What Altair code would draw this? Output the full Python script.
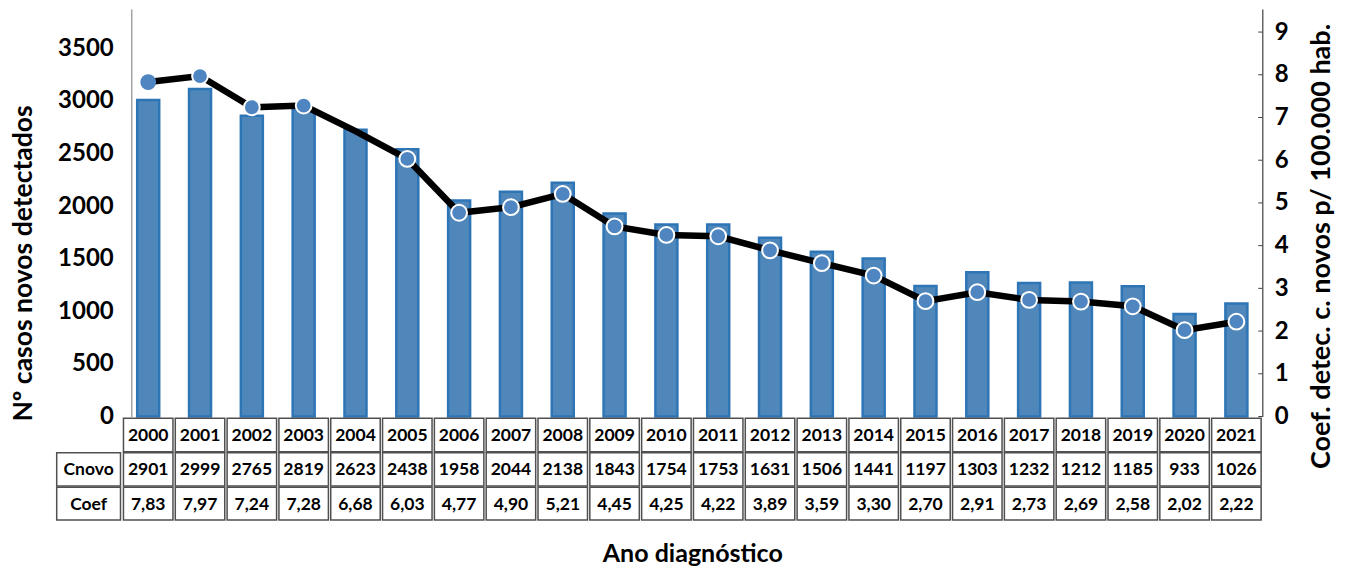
import altair as alt
import pandas as pd

years = list(range(2000, 2022))
cnovo = [2901, 2999, 2765, 2819, 2623, 2438, 1958, 2044, 2138, 1843, 1754,
         1753, 1631, 1506, 1441, 1197, 1303, 1232, 1212, 1185, 933, 1026]
coef = [7.83, 7.97, 7.24, 7.28, 6.68, 6.03, 4.77, 4.90, 5.21, 4.45, 4.25,
        4.22, 3.89, 3.59, 3.30, 2.70, 2.91, 2.73, 2.69, 2.58, 2.02, 2.22]
# bar heights (left axis)
bar_total = [3010, 3114, 2860, 2920, 2725, 2541, 2054, 2137, 2222, 1931, 1826,
             1826, 1700, 1567, 1501, 1241, 1371, 1269, 1273, 1238, 975, 1074]
left_ticks = [0, 500, 1000, 1500, 2000, 2500, 3000, 3500]
right_ticks = [0, 1, 2, 3, 4, 5, 6, 7, 8, 9]
row_labels = ["Cnovo", "Coef"]
no_marker_years = [2004]

df = pd.DataFrame({"year": years, "cnovo": cnovo, "coef": coef, "total": bar_total})

FONT = "Lato"
W, H = 1140, 407.5

X = alt.X("year:O", scale=alt.Scale(paddingInner=0, paddingOuter=0),
          axis=alt.Axis(title="Ano diagnóstico", labels=False, ticks=False, domain=False,
                        titleFont=FONT, titleFontSize=25, titleFontWeight="bold",
                        titleColor="black", titlePadding=125))

Yleft = alt.Y("total:Q", scale=alt.Scale(domain=[0, 3874], nice=False),
              axis=alt.Axis(orient="left", values=left_ticks, format="d", ticks=False, grid=False,
                            offset=-9, labelPadding=18, domainColor="#8c8c8c", domainWidth=1.2,
                            labelFont=FONT, labelFontSize=24, labelFontWeight="bold",
                            labelColor="black", title="Nº casos novos detectados",
                            titleFont=FONT, titleFontSize=26.5, titleFontWeight="bold",
                            titleColor="black", titlePadding=20, titleY=254))

Yright = alt.Y("coef:Q", scale=alt.Scale(domain=[0, 9.54], nice=False),
               axis=alt.Axis(orient="right", values=right_ticks, ticks=False, grid=False,
                             labelPadding=12, domainColor="#404040", domainWidth=1.2,
                             labelFont=FONT, labelFontSize=24, labelFontWeight="bold",
                             labelColor="black", title="Coef. detec. c. novos p/ 100.000 hab.",
                             titleAngle=270, titleBaseline="top",
                             titleFont=FONT, titleFontSize=27, titleFontWeight="bold",
                             titleColor="black", titlePadding=20, titleY=237))

bars = alt.Chart(df).mark_bar(size=22, fill="#4F87BB", stroke="#2E75B6", strokeWidth=2.5).encode(
    x=X, y=Yleft)

line = alt.Chart(df).mark_line(color="black", strokeWidth=6.5).encode(x=X, y=Yright)
points = alt.Chart(df).transform_filter(
    alt.FieldOneOfPredicate(field="year", oneOf=no_marker_years).__invert__()
).mark_circle(size=250, color="#4F86C1", stroke="white", opacity=1).encode(
    x=X, y=Yright,
    strokeWidth=alt.condition("datum.year == 2000", alt.value(0), alt.value(2)))
tick_rules = alt.Chart(pd.DataFrame({"coef": right_ticks})).mark_rule(
    color="#404040", strokeWidth=1).encode(y=Yright, x=alt.value(W - 4), x2=alt.value(W))

right_layer = alt.layer(line, points, tick_rules)

rows_y = [(409.3, 442.7), (443.7, 477.0), (478.3, 511.0)]


def cell_rects(y0, y1):
    return alt.Chart(df).mark_bar(width=alt.RelativeBandSize(0.955), fill="white",
                                  stroke="#505050", strokeWidth=1.5).encode(
        x=X, y=alt.value(y0), y2=alt.value(y1))


txt = dict(font=FONT, fontWeight="bold", fontSize=17.5, color="black", baseline="middle")

year_text = alt.Chart(df).mark_text(**txt).encode(
    x=X, y=alt.value((rows_y[0][0] + rows_y[0][1]) / 2 + 1), text="year:O")
cnovo_text = alt.Chart(df).mark_text(**txt).encode(
    x=X, y=alt.value((rows_y[1][0] + rows_y[1][1]) / 2 + 1), text=alt.Text("cnovo:Q", format="d"))
coef_text = alt.Chart(df).transform_calculate(
    coef_txt="replace(format(datum.coef, '.2f'), '.', ',')").mark_text(**txt).encode(
    x=X, y=alt.value((rows_y[2][0] + rows_y[2][1]) / 2 + 1), text="coef_txt:N")

label_layers = []
for i, lab in enumerate(row_labels):
    y0, y1 = rows_y[i + 1]
    ldf = pd.DataFrame({"row": [lab]})
    label_layers.append(alt.Chart(ldf).mark_rect(fill="white", stroke="#505050", strokeWidth=1.5).encode(
        x=alt.value(-65.6), x2=alt.value(-1.8), y=alt.value(y0), y2=alt.value(y1)))
    label_layers.append(alt.Chart(ldf).mark_text(**txt).encode(
        x=alt.value(-33.7), y=alt.value((y0 + y1) / 2 + 1), text="row:N"))

chart = alt.layer(
    bars, right_layer,
    cell_rects(*rows_y[0]), cell_rects(*rows_y[1]), cell_rects(*rows_y[2]),
    year_text, cnovo_text, coef_text, *label_layers
).resolve_scale(y="independent").properties(
    width=W, height=H,
    autosize=alt.AutoSizeParams(type="none"),
    padding={"left": 122.3, "top": 9, "right": 87.7, "bottom": 151.5},
    background="white"
).configure_view(strokeWidth=0)

chart.save("out.html", embed_options={"renderer": "svg", "actions": False})
